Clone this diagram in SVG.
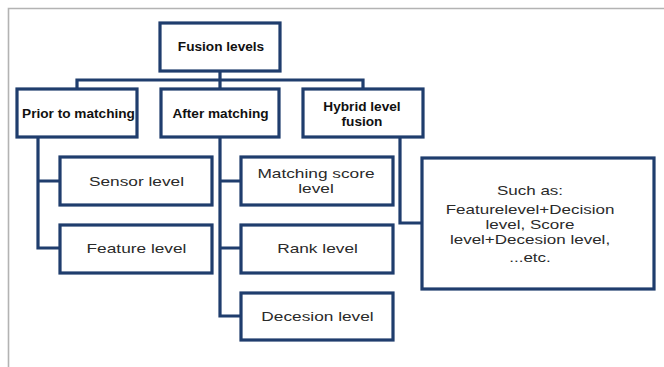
<svg xmlns="http://www.w3.org/2000/svg" width="664" height="367" viewBox="0 0 664 367">
<style>
.box{fill:#fff;stroke:#1f3d6d;stroke-width:3.2}
.ln{fill:none;stroke:#1f3d6d;stroke-width:3.2;stroke-linejoin:miter}
.b{font-family:"Liberation Sans",Arial,sans-serif;font-weight:bold;font-size:13px;fill:#111;text-anchor:middle}
.t{font-family:"Liberation Sans",Arial,sans-serif;font-size:13px;fill:#2a2a2a;text-anchor:middle}
</style>
<rect width="664" height="367" fill="#fff"/>
<path d="M8.5,367 V8.5 H664" fill="none" stroke="#b3b3b3" stroke-width="1.6"/>
<g id="connectors">
<path class="ln" d="M220,71 V80 M77,89 V80 H363 V89 M220,80 V89"/>
<path class="ln" d="M38,137 V248 H60 M38,181 H60"/>
<path class="ln" d="M220,137 V316 H241 M220,181 H241 M220,248 H241"/>
<path class="ln" d="M400,137 V223 H422"/>
</g>
<g id="fusion-levels"><rect class="box" x="160" y="23" width="120" height="48"/><text class="b" transform="translate(221 0) scale(1.05 1)" x="0" y="51">Fusion levels</text></g>
<g id="prior"><rect class="box" x="17" y="89" width="120" height="48"/><text class="b" transform="translate(78.5 0) scale(1.05 1)" x="0" y="118">Prior to matching</text></g>
<g id="after"><rect class="box" x="161" y="89" width="118" height="48"/><text class="b" transform="translate(220.5 0) scale(1.05 1)" x="0" y="118">After matching</text></g>
<g id="hybrid"><rect class="box" x="303" y="89" width="120" height="48"/><text class="b" transform="translate(362 0) scale(1.05 1)" x="0" y="111">Hybrid level<tspan x="0" y="125.6">fusion</tspan></text></g>
<g id="sensor"><rect class="box" x="60" y="157" width="152" height="48"/><text class="t" transform="translate(136.5 0) scale(1.33 1)" x="0" y="186">Sensor level</text></g>
<g id="feature"><rect class="box" x="60" y="225" width="152" height="48"/><text class="t" transform="translate(136.5 0) scale(1.33 1)" x="0" y="253">Feature level</text></g>
<g id="matching-score"><rect class="box" x="241" y="157" width="152" height="48"/><text class="t" transform="translate(316 0) scale(1.33 1)" x="0" y="178.5">Matching score<tspan x="0" y="193.2">level</tspan></text></g>
<g id="rank"><rect class="box" x="241" y="225" width="152" height="48"/><text class="t" transform="translate(317.5 0) scale(1.33 1)" x="0" y="253">Rank level</text></g>
<g id="decesion"><rect class="box" x="241" y="293" width="152" height="47"/><text class="t" transform="translate(317.5 0) scale(1.33 1)" x="0" y="321">Decesion level</text></g>
<g id="such-as"><rect class="box" x="422" y="158" width="232" height="131"/>
<text class="t" transform="translate(530 0) scale(1.31 1)" x="0" y="195.5">Such as:<tspan x="0" y="214.5">Featurelevel+Decision</tspan><tspan x="0" y="229.2">level, Score</tspan><tspan x="0" y="243.9">level+Decesion level,</tspan><tspan x="0" y="262">...etc.</tspan></text>
</g>
</svg>
